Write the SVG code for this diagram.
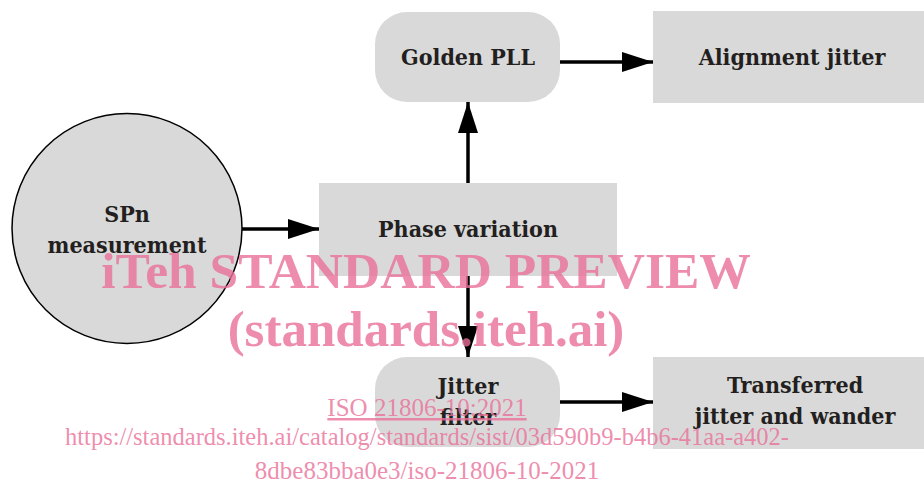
<svg xmlns="http://www.w3.org/2000/svg" width="924" height="485" viewBox="0 0 924 485">
<style>
.box{fill:#d9d9d9;}
.lbl{font-family:"DejaVu Serif Condensed","DejaVu Serif","Liberation Serif",serif;font-stretch:condensed;font-weight:bold;font-size:23px;fill:#231f20;text-anchor:middle;}
.conn{stroke:#000;stroke-width:3.5;fill:none;marker-end:url(#ah);}
.wm{font-family:"Liberation Serif","Times New Roman",serif;fill:#ea6f98;fill-opacity:0.8;text-anchor:middle;}
</style>
<defs>
<marker id="ah" markerUnits="userSpaceOnUse" markerWidth="31" markerHeight="20" refX="31" refY="10" orient="auto">
<path d="M0,0 L31,10 L0,20 z" fill="#000"/>
</marker>
</defs>
<rect width="924" height="485" fill="#fff"/>
<g id="spn">
<circle cx="127" cy="228.5" r="115" class="box" stroke="#000" stroke-width="1.5"/>
<text class="lbl" x="127" y="222">SPn</text>
<text class="lbl" x="127" y="253">measurement</text>
</g>
<g id="phase">
<rect class="box" x="319" y="183" width="298" height="93"/>
<text class="lbl" x="468" y="237">Phase variation</text>
</g>
<g id="golden">
<rect class="box" x="375" y="12" width="185" height="90" rx="32" ry="32"/>
<text class="lbl" x="468" y="65">Golden PLL</text>
</g>
<g id="alignment">
<rect class="box" x="653" y="11" width="271" height="92"/>
<text class="lbl" x="792" y="65">Alignment jitter</text>
</g>
<g id="filter">
<rect class="box" x="375" y="357" width="185" height="90" rx="32" ry="32"/>
<text class="lbl" x="468" y="394">Jitter</text>
<text class="lbl" x="468" y="425">filter</text>
</g>
<g id="transferred">
<rect class="box" x="653" y="357" width="271" height="92"/>
<text class="lbl" x="795" y="393">Transferred</text>
<text class="lbl" x="795" y="424">jitter and wander</text>
</g>
<g id="connectors">
<line class="conn" x1="242" y1="229" x2="319" y2="229"/>
<line class="conn" x1="468" y1="183" x2="468" y2="102"/>
<line class="conn" x1="468" y1="276" x2="468" y2="357"/>
<line class="conn" x1="560" y1="62" x2="653" y2="62"/>
<line class="conn" x1="560" y1="402" x2="653" y2="402"/>
</g>
<g id="watermark">
<text class="wm" x="426" y="288" font-size="51.5" font-weight="bold">iTeh STANDARD PREVIEW</text>
<text class="wm" x="426" y="346" font-size="51" font-weight="bold">(standards.iteh.ai)</text>
<text class="wm" x="427" y="416" font-size="25" text-decoration="underline">ISO 21806-10:2021</text>
<text class="wm" x="427" y="445" font-size="24.5">https://standards.iteh.ai/catalog/standards/sist/03d590b9-b4b6-41aa-a402-</text>
<text class="wm" x="427" y="479" font-size="25">8dbe83bba0e3/iso-21806-10-2021</text>
</g>
</svg>
